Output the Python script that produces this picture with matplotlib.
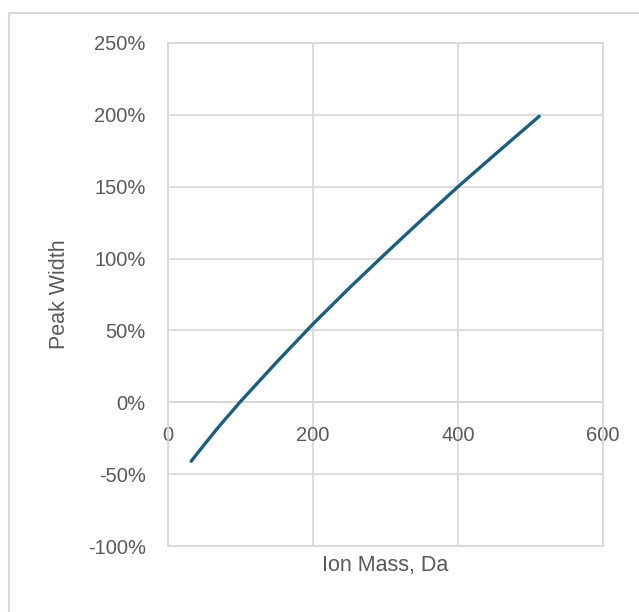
import matplotlib.pyplot as plt
from matplotlib.lines import Line2D
from matplotlib.ticker import FuncFormatter

# values
ion_mass = [32, 50, 70, 100, 150, 200, 250, 300, 350, 400, 450, 512]
peak_width = [-41, -29.5, -17, 0.5, 28, 54.5, 79.5, 103.5, 127, 150, 172, 199]

x_ticks = [0, 200, 400, 600]
y_ticks = [-100, -50, 0, 50, 100, 150, 200, 250]

grid_col = '#d9d9d9'
text_col = '#595959'

fig = plt.figure(figsize=(6.39, 6.12), dpi=100)
ax = fig.add_axes([168 / 639, 1 - 546 / 612, 435 / 639, 503 / 612])

ax.plot(ion_mass, peak_width, color='#1b5e7e', lw=2.4, solid_capstyle='round', zorder=3)

ax.set_xlim(0, 600)
ax.set_ylim(-100, 250)
ax.set_xticks(x_ticks)
ax.set_yticks(y_ticks)
ax.yaxis.set_major_formatter(FuncFormatter(lambda v, p: '%d%%' % v))

ax.grid(True, color=grid_col, lw=1.3)
ax.set_axisbelow(True)
for s in ax.spines.values():
    s.set_color(grid_col)
    s.set_linewidth(1.3)
ax.spines['bottom'].set_position(('data', 0))
ax.axhline(-100, color=grid_col, lw=1.3, clip_on=False)

ax.tick_params(length=0, labelsize=14.5, labelcolor=text_col)
ax.tick_params(axis='x', pad=17)
ax.tick_params(axis='y', pad=16)
for lab in ax.get_xticklabels() + ax.get_yticklabels():
    lab.set_family('Liberation Sans')

ax.set_xlabel('Ion Mass, Da', fontsize=15.5, color=text_col, family='Liberation Sans')
ax.set_ylabel('Peak Width', fontsize=15.5, color=text_col, family='Liberation Sans')
ax.xaxis.set_label_coords(0.5, -0.017)
ax.yaxis.set_label_coords(-0.225, 0.5)

# outer chart border (top and left parts visible)
fig.add_artist(Line2D([9 / 639, 9 / 639, 1], [0, 1 - 13 / 612, 1 - 13 / 612],
                      color=grid_col, lw=1.5))

fig.savefig('out.png', dpi=100)
